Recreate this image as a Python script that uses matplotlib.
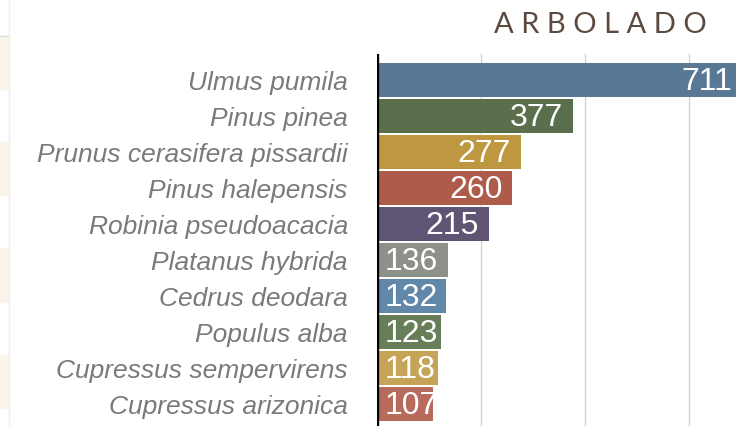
import matplotlib
matplotlib.use('Agg')
import matplotlib.pyplot as plt
from matplotlib.patches import Rectangle

# Datos
especies = ['Ulmus pumila', 'Pinus pinea', 'Prunus cerasifera pissardii',
            'Pinus halepensis', 'Robinia pseudoacacia', 'Platanus hybrida',
            'Cedrus deodara', 'Populus alba', 'Cupressus sempervirens',
            'Cupressus arizonica']
cantidad = [711, 377, 277, 260, 215, 136, 132, 123, 118, 107]
colores = ['#587896', '#5b6f4c', '#be9840', '#ae5b4a', '#5f5474',
           '#8d918a', '#6188a8', '#687e59', '#c6a457', '#b86b5c']
rejilla = [200, 400, 600]

W, H = 736, 426
fig = plt.figure(figsize=(W / 100, H / 100), dpi=100)
fig.patch.set_facecolor('white')

# franjas de fondo a la izquierda
for y0, y1 in [(36, 89), (142, 195), (248, 302), (355, 408)]:
    fig.patches.append(Rectangle((0, 1 - y1 / H), 8 / W, (y1 - y0) / H,
                                 transform=fig.transFigure, color='#fbf4ea',
                                 zorder=0))
fig.add_artist(plt.Line2D([8.5 / W, 8.5 / W], [0, 1], transform=fig.transFigure,
                          color='#eeeeee', lw=1))
fig.add_artist(plt.Line2D([0, 8 / W], [1 - 36 / H, 1 - 36 / H],
                          transform=fig.transFigure, color='#dddddd', lw=1))

# eje: cero en x=377px, 0.52 px por unidad
x0 = 377 / W
xmax = 750
ax = fig.add_axes([x0, 0, xmax * 0.52 / W, 1 - 54 / H])
ypos = list(range(len(especies)))
barras = ax.barh(ypos, cantidad, height=0.94, color=colores, zorder=2)
ax.set_xlim(0, xmax)
ax.set_ylim(9.6, -0.73)

for g in rejilla:
    ax.axvline(g, color='#d4d4d4', lw=1, zorder=1)
ax.axvline(0, color='black', lw=2.4, zorder=3)

for s in ax.spines.values():
    s.set_visible(False)
ax.set_xticks([])
ax.set_yticks(ypos)
ax.set_yticklabels(especies, fontsize=19, style='italic', color='#7a7a7a',
                   family='Liberation Sans')
ax.tick_params(axis='y', length=0, pad=21)

textos = []
for y, v in zip(ypos, cantidad):
    t = ax.text(min(v - 19, 683), y + 0.05, str(v), ha='right', va='center',
                color='white', fontsize=23, family='Liberation Sans', zorder=4)
    textos.append(t)

# si la etiqueta no cabe, se pega al inicio de la barra
fig.canvas.draw()
r = fig.canvas.get_renderer()
x_min = ax.transData.transform((15, 0))[0]
for t, b in zip(textos, barras):
    ext = t.get_window_extent(r)
    if ext.x0 < x_min:
        t.set_ha('left')
        t.set_x(15)
        t.set_clip_path(b)

fig.text(707 / W, 1 - 25 / H, ' '.join('ARBOLADO'), ha='right', va='center',
         fontsize=21, color='#5b4a3f', family='Lato')

fig.savefig('out.png', dpi=100)
